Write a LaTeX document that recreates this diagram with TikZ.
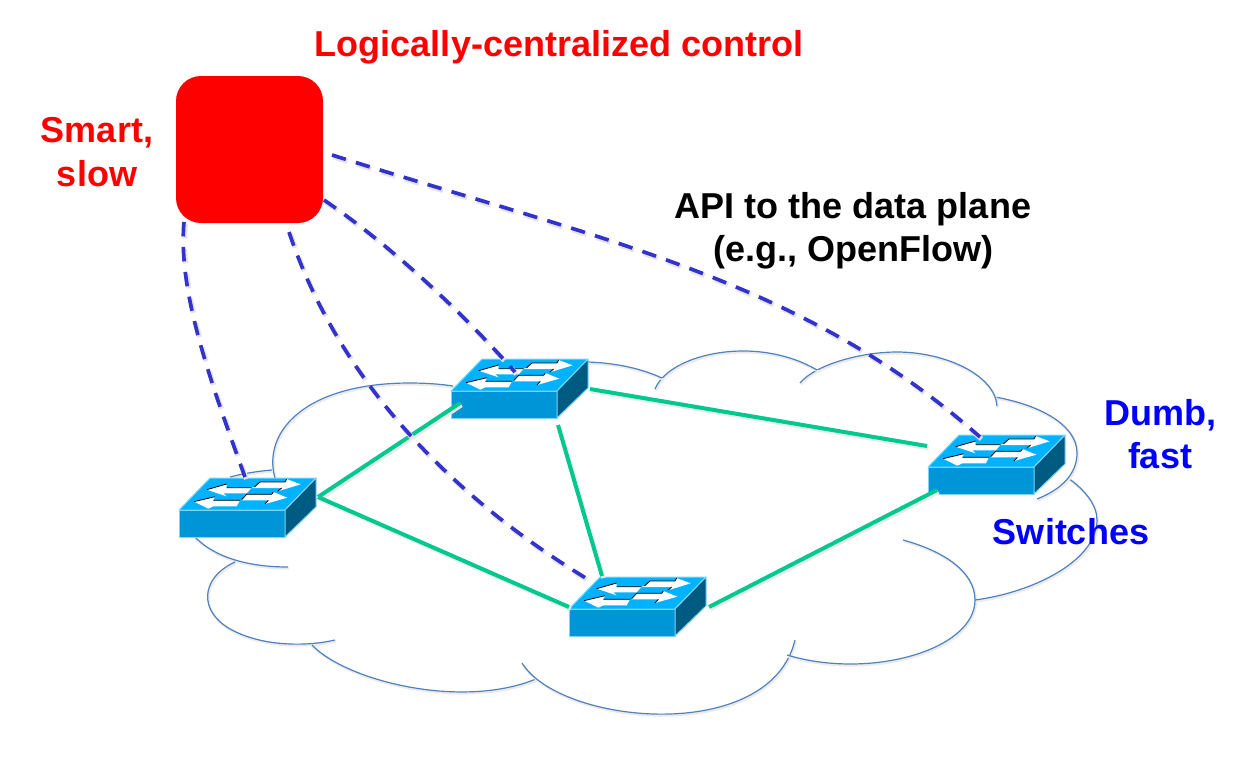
\documentclass[tikz,border=0pt]{standalone}
\usepackage{fontspec}
\setmainfont{Liberation Sans}
\definecolor{cloudc}{HTML}{4F81BD}
\definecolor{greenc}{HTML}{00C88F}
\definecolor{dashc}{HTML}{3333CC}
\definecolor{swtop}{HTML}{00B2FF}
\definecolor{swfrontc}{HTML}{0095D6}
\definecolor{swside}{HTML}{005B82}
\definecolor{swedge}{HTML}{7FD6F7}
\tikzset{
  cloudarc/.style={draw=cloudc,line width=1.2pt,preaction={draw=black!8,line width=2.2pt,transform canvas={xshift=1pt,yshift=-1.5pt}}},
  link/.style={draw=greenc,line width=4pt,preaction={draw=black!8,line width=4.5pt,transform canvas={xshift=1.5pt,yshift=-2pt}}},
  ctrllink/.style={draw=dashc,line width=3.7pt,dash pattern=on 14.5pt off 10.5pt,preaction={draw=black!10,line width=5pt,dash pattern=on 14.5pt off 10.5pt,transform canvas={xshift=1.5pt,yshift=-2pt}}},
  swfront/.style={draw=swedge,line width=1pt,fill=swfrontc,minimum width=106pt,minimum height=27pt,inner sep=0pt,outer sep=0pt,anchor=north west},
  lbl/.style={font=\fontsize{36}{43.5}\selectfont\bfseries,align=center,inner sep=0pt},
  arrowfill/.style={fill=white,draw=none},
  arrowedge/.style={draw=black,line width=.8pt}
}
\newcommand{\swunit}[3]{%
  \node[swfront] (#1) at (#2,#3) {};
  \begin{scope}[shift={(#2,#3)}]
    \draw[swedge,line width=1pt,fill=swtop,line join=round] (0,0) -- (31,-32) -- (137,-32) -- (106,0) -- cycle;
    \draw[swedge,line width=1pt,fill=swside,line join=round] (106,0) -- (137,-32) -- (137,-3) -- (106,27) -- cycle;
  \end{scope}
  \begin{scope}[shift={(#2,#3)},x=.3333pt,y=-.3333pt,shift={(-62,-153)}]
    \fill[arrowfill] (145,92) -- (205,75) -- (205,86) -- (280,86) -- (265,103) -- (195,103) -- (205,112) -- cycle;
    \fill[arrowfill] (288,84) -- (305,69) -- (380,69) -- (385,60) -- (427,76) -- (358,97) -- (370,87) -- (275,87) -- cycle;
    \fill[arrowfill] (107,128) -- (170,113) -- (165,124) -- (245,124) -- (235,142) -- (165,142) -- (150,149) -- cycle;
    \fill[arrowfill] (250,122) -- (265,106) -- (340,106) -- (345,99) -- (387,116) -- (320,135) -- (330,124) -- (250,124) -- cycle;
    \draw[arrowedge] (145,92) -- (205,75) (205,86) -- (280,86);
    \draw[arrowedge] (288,84) -- (305,69) -- (380,69) -- (385,60) (358,97) -- (370,87);
    \draw[arrowedge] (107,128) -- (170,113) (165,124) -- (245,124);
    \draw[arrowedge] (250,122) -- (265,106) -- (340,106) -- (345,99) (320,135) -- (330,124);
  \end{scope}
}
\begin{document}
\begin{tikzpicture}[x=1pt,y=-1pt]
\useasboundingbox (0,0) rectangle (1245,758);
\fill[white] (0,0) rectangle (1245,758);
% cloud
\draw[cloudarc] (275,478) .. controls (262,432) and (305,383) .. (410,383) .. controls (425,383) and (440,384) .. (453,386);
\draw[cloudarc] (230,477) .. controls (245,473) and (260,471) .. (272,470);
\draw[cloudarc] (195,537) .. controls (215,558) and (250,567) .. (288,567);
\draw[cloudarc] (235,562) .. controls (200,578) and (198,612) .. (232,630) .. controls (262,646) and (305,647) .. (335,640);
\draw[cloudarc] (312,645) .. controls (345,680) and (460,710) .. (536,679);
\draw[cloudarc] (522,663) .. controls (560,725) and (770,745) .. (795,640);
\draw[cloudarc] (787,655) .. controls (870,680) and (975,650) .. (975,600) .. controls (975,570) and (940,550) .. (903,540);
\draw[cloudarc] (975,600) .. controls (1035,592) and (1097,560) .. (1097,520) .. controls (1097,505) and (1085,490) .. (1068,478);
\draw[cloudarc] (1037,499) .. controls (1060,490) and (1077,475) .. (1077,453) .. controls (1077,425) and (1040,405) .. (995,397);
\draw[cloudarc] (997,406) .. controls (995,375) and (945,352) .. (897,352) .. controls (860,352) and (815,365) .. (800,383);
\draw[cloudarc] (655,389) .. controls (665,365) and (705,351) .. (743,351) .. controls (775,351) and (800,360) .. (817,370);
\draw[cloudarc] (588,362) .. controls (615,363) and (640,368) .. (662,378);
% controller
\node[fill=red,rounded corners=25pt,minimum width=147pt,minimum height=147pt,inner sep=0pt,outer sep=0pt,anchor=north west] (ctrl) at (176,76) {};
% switches
\swunit{sa}{451}{391}
\swunit{sl}{179}{510}
\swunit{sr}{928}{467}
\swunit{sb}{569}{609}
% links
\draw[link] ([shift={(139,-13)}]sl.north west) -- ([shift={(9,12)}]sa.north west);
\draw[link] ([shift={(139,-13)}]sl.north west) -- ([shift={(0,-2)}]sb.north west);
\draw[link] ([shift={(139,-2)}]sa.north west) -- ([shift={(-1,-21)}]sr.north west);
\draw[link] ([shift={(107,34)}]sa.north west) -- ([shift={(33,-33)}]sb.north west);
\draw[link] ([shift={(140,-2)}]sb.north west) -- ([shift={(9,23)}]sr.north west);
% control links
\draw[ctrllink] ([shift={(8,-1)}]ctrl.south west) .. controls (178,290) and (208,375) .. ([shift={(66,-33)}]sl.north west);
\draw[ctrllink] ([shift={(113,9)}]ctrl.south west) .. controls (335,370) and (440,490) .. ([shift={(20,-29)}]sb.north west);
\draw[ctrllink] ([shift={(1,-23)}]ctrl.south east) .. controls (390,245) and (460,310) .. ([shift={(64,-19)}]sa.north west);
\draw[ctrllink] ([shift={(9,79)}]ctrl.north east) .. controls (600,240) and (800,278) .. ([shift={(52,-30)}]sr.north west);
% labels
\node[lbl,text=red] (t1) at (559,47) {Logically-centralized control};
\node[lbl,text=red] (t2) at (97,152) {Smart,\\slow};
\node[lbl,text=black] (t3) at (853,231) {API to the data plane\\(e.g., OpenFlow)};
\node[lbl,text=blue] (t4) at (1160,434) {Dumb,\\fast};
\node[lbl,text=blue] (t5) at (1071,532) {Switches};
\end{tikzpicture}
\end{document}
